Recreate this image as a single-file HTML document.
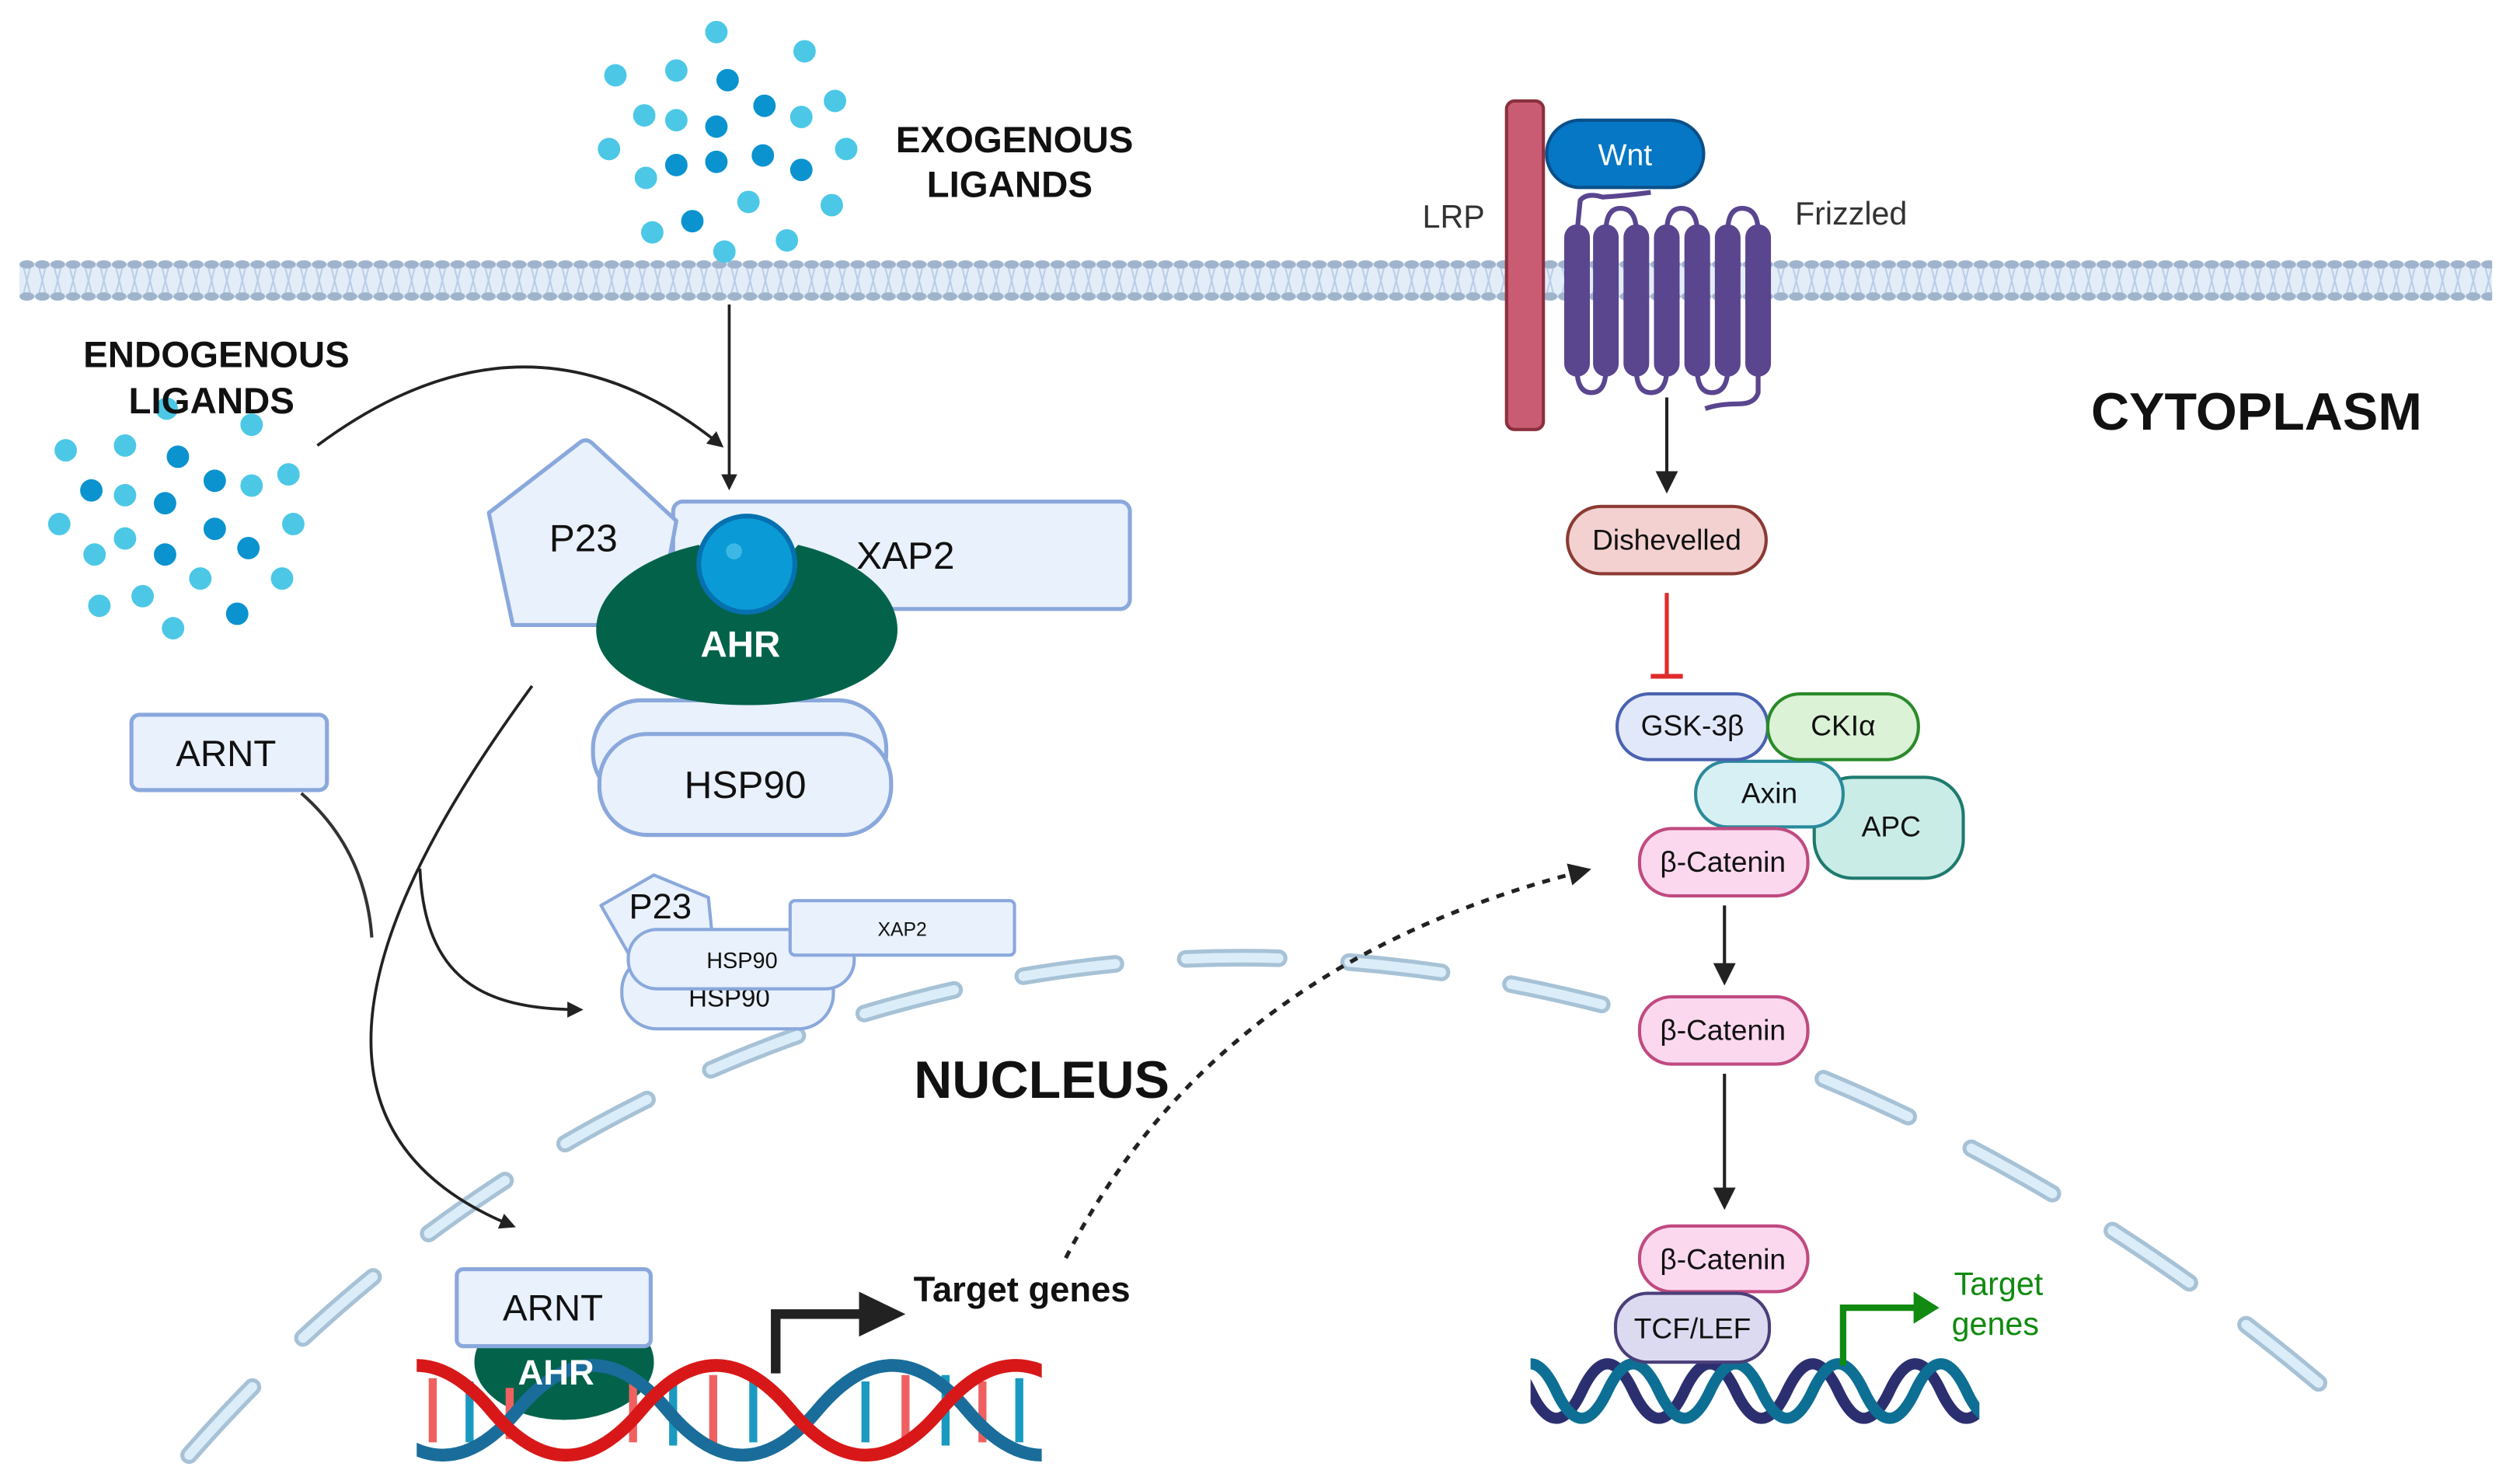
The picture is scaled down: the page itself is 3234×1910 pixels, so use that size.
<!DOCTYPE html>
<html><head><meta charset="utf-8"><style>
html,body{margin:0;padding:0;background:#fff;}
svg{display:block;}
text{font-family:"Liberation Sans Narrow","Liberation Sans",sans-serif;}
</style></head><body>
<svg width="3234" height="1910" viewBox="0 0 1568 926" preserveAspectRatio="none" xmlns="http://www.w3.org/2000/svg">
<defs>
<pattern id="mem" x="12" y="160" width="9.6" height="30" patternUnits="userSpaceOnUse">
<path d="M2.5,6 L4.8,15 L2.5,24 M7,6 L4.8,15 L7,24" stroke="#b9cde6" stroke-width="1" fill="none"/>
<ellipse cx="4.8" cy="5" rx="4.6" ry="2.6" fill="#9fb4cc"/>
<ellipse cx="4.8" cy="25" rx="4.6" ry="2.6" fill="#9fb4cc"/>
</pattern>
<marker id="ah" markerWidth="10" markerHeight="10" refX="8" refY="5" orient="auto" markerUnits="userSpaceOnUse"><path d="M0,0 L10,5 L0,10 z" fill="#222"/></marker>
<marker id="ah2" markerWidth="14" markerHeight="14" refX="11" refY="7" orient="auto" markerUnits="userSpaceOnUse"><path d="M0,0 L14,7 L0,14 z" fill="#222"/></marker>
<clipPath id="dnaL"><rect x="260" y="835" width="390" height="85"/></clipPath>
<clipPath id="dnaR"><rect x="955" y="835" width="280" height="65"/></clipPath>
</defs>

<!-- membrane -->
<rect x="12" y="164" width="1543" height="22" fill="#e3edf8"/>
<rect x="12" y="160" width="1543" height="30" fill="url(#mem)"/>

<!-- nucleus envelope -->
<path d="M118,908 C300,700 550,590 800,598 C1050,606 1280,720 1455,870" fill="none" stroke="#a7c2d6" stroke-width="11" stroke-linecap="round" stroke-dasharray="58,44"/>
<path d="M118,908 C300,700 550,590 800,598 C1050,606 1280,720 1455,870" fill="none" stroke="#dbedf9" stroke-width="6" stroke-linecap="round" stroke-dasharray="58,44"/>

<!-- exogenous ligands -->
<g fill="#4cc8e6">
<circle cx="447" cy="20" r="7"/><circle cx="502" cy="32" r="7"/><circle cx="384" cy="47" r="7"/><circle cx="521" cy="63" r="7"/><circle cx="422" cy="75" r="7"/><circle cx="528" cy="93" r="7"/><circle cx="380" cy="93" r="7"/><circle cx="519" cy="128" r="7"/><circle cx="407" cy="145" r="7"/><circle cx="452" cy="157" r="7"/><circle cx="403" cy="111" r="7"/><circle cx="467" cy="126" r="7"/><circle cx="491" cy="150" r="7"/><circle cx="422" cy="44" r="7"/><circle cx="402" cy="72" r="7"/><circle cx="500" cy="73" r="7"/>
</g>
<g fill="#0a93cf">
<circle cx="454" cy="50" r="7"/><circle cx="477" cy="66" r="7"/><circle cx="447" cy="79" r="7"/><circle cx="476" cy="97" r="7"/><circle cx="500" cy="106" r="7"/><circle cx="447" cy="101" r="7"/><circle cx="422" cy="103" r="7"/><circle cx="432" cy="138" r="7"/>
</g>
<!-- endogenous ligands -->
<g fill="#4cc8e6">
<circle cx="41" cy="281" r="7"/><circle cx="78" cy="278" r="7"/><circle cx="180" cy="296" r="7"/><circle cx="78" cy="309" r="7"/><circle cx="37" cy="327" r="7"/><circle cx="183" cy="327" r="7"/><circle cx="176" cy="361" r="7"/><circle cx="62" cy="378" r="7"/><circle cx="108" cy="392" r="7"/><circle cx="104" cy="255" r="7"/><circle cx="157" cy="265" r="7"/><circle cx="157" cy="303" r="7"/><circle cx="78" cy="336" r="7"/><circle cx="125" cy="361" r="7"/><circle cx="89" cy="372" r="7"/><circle cx="59" cy="346" r="7"/>
</g>
<g fill="#0a93cf">
<circle cx="111" cy="285" r="7"/><circle cx="134" cy="300" r="7"/><circle cx="57" cy="306" r="7"/><circle cx="103" cy="314" r="7"/><circle cx="134" cy="330" r="7"/><circle cx="155" cy="342" r="7"/><circle cx="103" cy="346" r="7"/><circle cx="148" cy="383" r="7"/>
</g>

<text x="633" y="95" font-size="23" font-weight="bold" text-anchor="middle" fill="#111">EXOGENOUS</text>
<text x="630" y="123" font-size="23" font-weight="bold" text-anchor="middle" fill="#111">LIGANDS</text>
<text x="135" y="229" font-size="23" font-weight="bold" text-anchor="middle" fill="#111">ENDOGENOUS</text>
<text x="132" y="258" font-size="23" font-weight="bold" text-anchor="middle" fill="#111">LIGANDS</text>

<!-- arrows to AHR -->
<line x1="455" y1="190" x2="455" y2="304" stroke="#222" stroke-width="1.8" marker-end="url(#ah)"/>
<path d="M198,278 Q330,180 450,278" fill="none" stroke="#222" stroke-width="1.8" marker-end="url(#ah)"/>

<!-- AHR complex -->
<rect x="420" y="313" width="285" height="67" rx="6" fill="#e8f1fc" stroke="#8aa8dc" stroke-width="2.5"/>
<path d="M305,320 L362,276 Q366,273 370,277 L422,325 L410,390 L320,390 Z" fill="#e8f1fc" stroke="#8aa8dc" stroke-width="2.5" stroke-linejoin="round"/>
<text x="364" y="344" font-size="24" text-anchor="middle" fill="#111">P23</text>
<text x="565" y="355" font-size="24" text-anchor="middle" fill="#111">XAP2</text>
<rect x="370" y="437" width="183" height="63" rx="30" fill="#e8f1fc" stroke="#8aa8dc" stroke-width="2.5"/>
<rect x="374" y="458" width="182" height="63" rx="30" fill="#e8f1fc" stroke="#8aa8dc" stroke-width="2.5"/>
<text x="465" y="498" font-size="24" text-anchor="middle" fill="#111">HSP90</text>
<path d="M436,340 C400,348 372,368 372,393 C372,420 410,440 466,440 C522,440 560,420 560,393 C560,368 532,348 498,340 L470,372 Z" fill="#02634a"/>
<circle cx="466" cy="352" r="30" fill="#0a9bd6" stroke="#0670b0" stroke-width="3"/>
<circle cx="458" cy="344" r="5" fill="#3db8e6"/>
<text x="462" y="410" font-size="23" font-weight="bold" text-anchor="middle" fill="#fff">AHR</text>

<!-- ARNT top -->
<rect x="82" y="446" width="122" height="47" rx="5" fill="#e8f1fc" stroke="#8aa8dc" stroke-width="2.5"/>
<text x="141" y="478" font-size="23" text-anchor="middle" fill="#111">ARNT</text>
<path d="M188,495 Q228,530 232,585" fill="none" stroke="#333" stroke-width="2"/>
<path d="M332,428 C250,540 160,700 320,765" fill="none" stroke="#222" stroke-width="1.8" marker-end="url(#ah)"/>
<path d="M262,542 C265,610 300,630 362,630" fill="none" stroke="#222" stroke-width="1.8" marker-end="url(#ah)"/>

<!-- small dissociated complex -->
<path d="M375,565 L408,546 L442,560 L445,590 L395,600 Z" fill="#e8f1fc" stroke="#8aa8dc" stroke-width="2" stroke-linejoin="round"/>
<rect x="388" y="596" width="132" height="46" rx="22" fill="#e8f1fc" stroke="#8aa8dc" stroke-width="2"/>
<text x="455" y="628" font-size="16" text-anchor="middle" fill="#111">HSP90</text>
<text x="412" y="573" font-size="22" text-anchor="middle" fill="#111">P23</text>
<rect x="392" y="580" width="141" height="37" rx="18" fill="#e8f1fc" stroke="#8aa8dc" stroke-width="2"/>
<text x="463" y="604" font-size="14" text-anchor="middle" fill="#111">HSP90</text>
<rect x="493" y="562" width="140" height="34" rx="3" fill="#e8f1fc" stroke="#8aa8dc" stroke-width="2"/>
<text x="563" y="584" font-size="12" text-anchor="middle" fill="#111">XAP2</text>

<text x="650" y="685" font-size="33" font-weight="bold" text-anchor="middle" fill="#111">NUCLEUS</text>
<text x="1408" y="268" font-size="33" font-weight="bold" text-anchor="middle" fill="#111">CYTOPLASM</text>

<!-- left DNA -->
<ellipse cx="352" cy="850" rx="56" ry="36" fill="#02634a"/>
<g clip-path="url(#dnaL)">
<g stroke-width="5">
<line x1="270" y1="860" x2="270" y2="900" stroke="#f06060"/><line x1="293" y1="862" x2="293" y2="900" stroke="#1a9ac0"/>
<line x1="318" y1="866" x2="318" y2="898" stroke="#f06060"/>
<line x1="395" y1="862" x2="395" y2="900" stroke="#f06060"/><line x1="420" y1="858" x2="420" y2="902" stroke="#1a9ac0"/>
<line x1="445" y1="858" x2="445" y2="902" stroke="#f06060"/><line x1="470" y1="862" x2="470" y2="900" stroke="#1a9ac0"/>
<line x1="540" y1="862" x2="540" y2="900" stroke="#1a9ac0"/><line x1="565" y1="858" x2="565" y2="902" stroke="#f06060"/>
<line x1="590" y1="858" x2="590" y2="902" stroke="#1a9ac0"/><line x1="613" y1="862" x2="613" y2="900" stroke="#f06060"/>
<line x1="636" y1="860" x2="636" y2="900" stroke="#1a9ac0"/>
</g>
<path d="M136,880 q46.75,-56 93.5,0 t93.5,0 t93.5,0 t93.5,0 t93.5,0 t93.5,0 t93.5,0" fill="none" stroke="#1a6d9a" stroke-width="8"/>
<path d="M213,880 q46.75,-56 93.5,0 t93.5,0 t93.5,0 t93.5,0 t93.5,0 t93.5,0" fill="none" stroke="#d81818" stroke-width="8"/>
</g>
<rect x="285" y="792" width="121" height="48" rx="4" fill="#e8f1fc" stroke="#8aa8dc" stroke-width="2.5"/>
<text x="345" y="824" font-size="23" text-anchor="middle" fill="#111">ARNT</text>
<text x="347" y="864" font-size="22" font-weight="bold" text-anchor="middle" fill="#fff">AHR</text>
<path d="M484,857 L484,820 L540,820" fill="none" stroke="#222" stroke-width="6"/>
<path d="M536,806 L565,820 L536,834 Z" fill="#222"/>
<text x="570" y="812" font-size="22" font-weight="bold" fill="#111">Target genes</text>

<!-- dotted -->
<path d="M665,785 Q760,600 990,543" fill="none" stroke="#222" stroke-width="2.5" stroke-dasharray="5,5" marker-end="url(#ah2)"/>

<!-- Wnt/Frizzled -->
<rect x="940" y="63" width="23" height="205" rx="5" fill="#c95c72" stroke="#8b2f3e" stroke-width="2"/>
<text x="907" y="142" font-size="20" text-anchor="middle" fill="#333">LRP</text>
<text x="1155" y="140" font-size="20" text-anchor="middle" fill="#333">Frizzled</text>
<g fill="none" stroke="#5a458f" stroke-width="3">
<path d="M984,145 L986,125 Q990,120 1000,123 Q1015,122 1030,120"/>
<path d="M1002,145 Q1002,130 1011,130 Q1021,130 1021,145"/>
<path d="M1040,145 Q1040,130 1049,130 Q1059,130 1059,145"/>
<path d="M1078,145 Q1078,130 1087,130 Q1097,130 1097,145"/>
<path d="M984,230 Q984,245 993,245 Q1002,245 1002,230"/>
<path d="M1021,230 Q1021,245 1030,245 Q1040,245 1040,230"/>
<path d="M1059,230 Q1059,245 1068,245 Q1078,245 1078,230"/>
<path d="M1097,230 L1097,245 Q1095,252 1085,252 Q1072,252 1064,255"/>
</g>
<g fill="#5a458f">
<rect x="976" y="140" width="16" height="95" rx="8"/><rect x="994" y="140" width="16" height="95" rx="8"/>
<rect x="1013" y="140" width="16" height="95" rx="8"/><rect x="1032" y="140" width="16" height="95" rx="8"/>
<rect x="1051" y="140" width="16" height="95" rx="8"/><rect x="1070" y="140" width="16" height="95" rx="8"/>
<rect x="1089" y="140" width="16" height="95" rx="8"/>
</g>
<rect x="965" y="75" width="98" height="42" rx="21" fill="#0577c4" stroke="#0a4f8a" stroke-width="2"/>
<text x="1014" y="103" font-size="19" text-anchor="middle" fill="#fff">Wnt</text>

<line x1="1040" y1="248" x2="1040" y2="305" stroke="#222" stroke-width="2" marker-end="url(#ah2)"/>
<rect x="978" y="316" width="124" height="42" rx="21" fill="#f4d1d1" stroke="#8b3a33" stroke-width="2"/>
<text x="1040" y="343" font-size="18" text-anchor="middle" fill="#111">Dishevelled</text>
<line x1="1040" y1="370" x2="1040" y2="422" stroke="#e02b2b" stroke-width="2.5"/>
<line x1="1030" y1="422" x2="1050" y2="422" stroke="#e02b2b" stroke-width="3"/>

<rect x="1132" y="485" width="93" height="63" rx="24" fill="#c9ece6" stroke="#1f7a6e" stroke-width="2"/>
<text x="1180" y="522" font-size="18" text-anchor="middle" fill="#111">APC</text>
<rect x="1058" y="475" width="92" height="41" rx="20" fill="#d7f0f4" stroke="#2a8a9a" stroke-width="2"/>
<text x="1104" y="501" font-size="18" text-anchor="middle" fill="#111">Axin</text>
<rect x="1009" y="433" width="94" height="41" rx="20" fill="#e1e8fa" stroke="#4a62b0" stroke-width="2"/>
<text x="1056" y="459" font-size="18" text-anchor="middle" fill="#111">GSK-3β</text>
<rect x="1103" y="433" width="94" height="41" rx="20" fill="#dbf2d6" stroke="#2a8a2a" stroke-width="2"/>
<text x="1150" y="459" font-size="18" text-anchor="middle" fill="#111">CKIα</text>
<rect x="1023" y="517" width="105" height="42" rx="20" fill="#fcd8ef" stroke="#c04a80" stroke-width="2"/>
<text x="1075" y="544" font-size="18" text-anchor="middle" fill="#111">β-Catenin</text>

<line x1="1076" y1="565" x2="1076" y2="612" stroke="#222" stroke-width="2" marker-end="url(#ah2)"/>
<rect x="1023" y="622" width="105" height="42" rx="20" fill="#fcd8ef" stroke="#c04a80" stroke-width="2"/>
<text x="1075" y="649" font-size="18" text-anchor="middle" fill="#111">β-Catenin</text>
<line x1="1076" y1="670" x2="1076" y2="752" stroke="#222" stroke-width="2" marker-end="url(#ah2)"/>

<g clip-path="url(#dnaR)">
<path d="M923,868 q16,-34 32,0 t32,0 t32,0 t32,0 t32,0 t32,0 t32,0 t32,0 t32,0 t32,0" fill="none" stroke="#2c2f6f" stroke-width="7"/>
<path d="M939,868 q16,-34 32,0 t32,0 t32,0 t32,0 t32,0 t32,0 t32,0 t32,0 t32,0 t32,0" fill="none" stroke="#0e6f94" stroke-width="7"/>
</g>
<rect x="1023" y="765" width="105" height="41" rx="20" fill="#fcd8ef" stroke="#c04a80" stroke-width="2"/>
<text x="1075" y="792" font-size="18" text-anchor="middle" fill="#111">β-Catenin</text>
<rect x="1008" y="807" width="96" height="43" rx="20" fill="#dcdaf0" stroke="#4a3e7a" stroke-width="2"/>
<text x="1056" y="835" font-size="18" text-anchor="middle" fill="#111">TCF/LEF</text>
<path d="M1150,852 L1150,816 L1196,816" fill="none" stroke="#108a10" stroke-width="4"/>
<path d="M1194,806 L1210,816 L1194,826 Z" fill="#108a10"/>
<text x="1247" y="808" font-size="20" text-anchor="middle" fill="#108a10">Target</text>
<text x="1245" y="833" font-size="20" text-anchor="middle" fill="#108a10">genes</text>
</svg>
</body></html>
